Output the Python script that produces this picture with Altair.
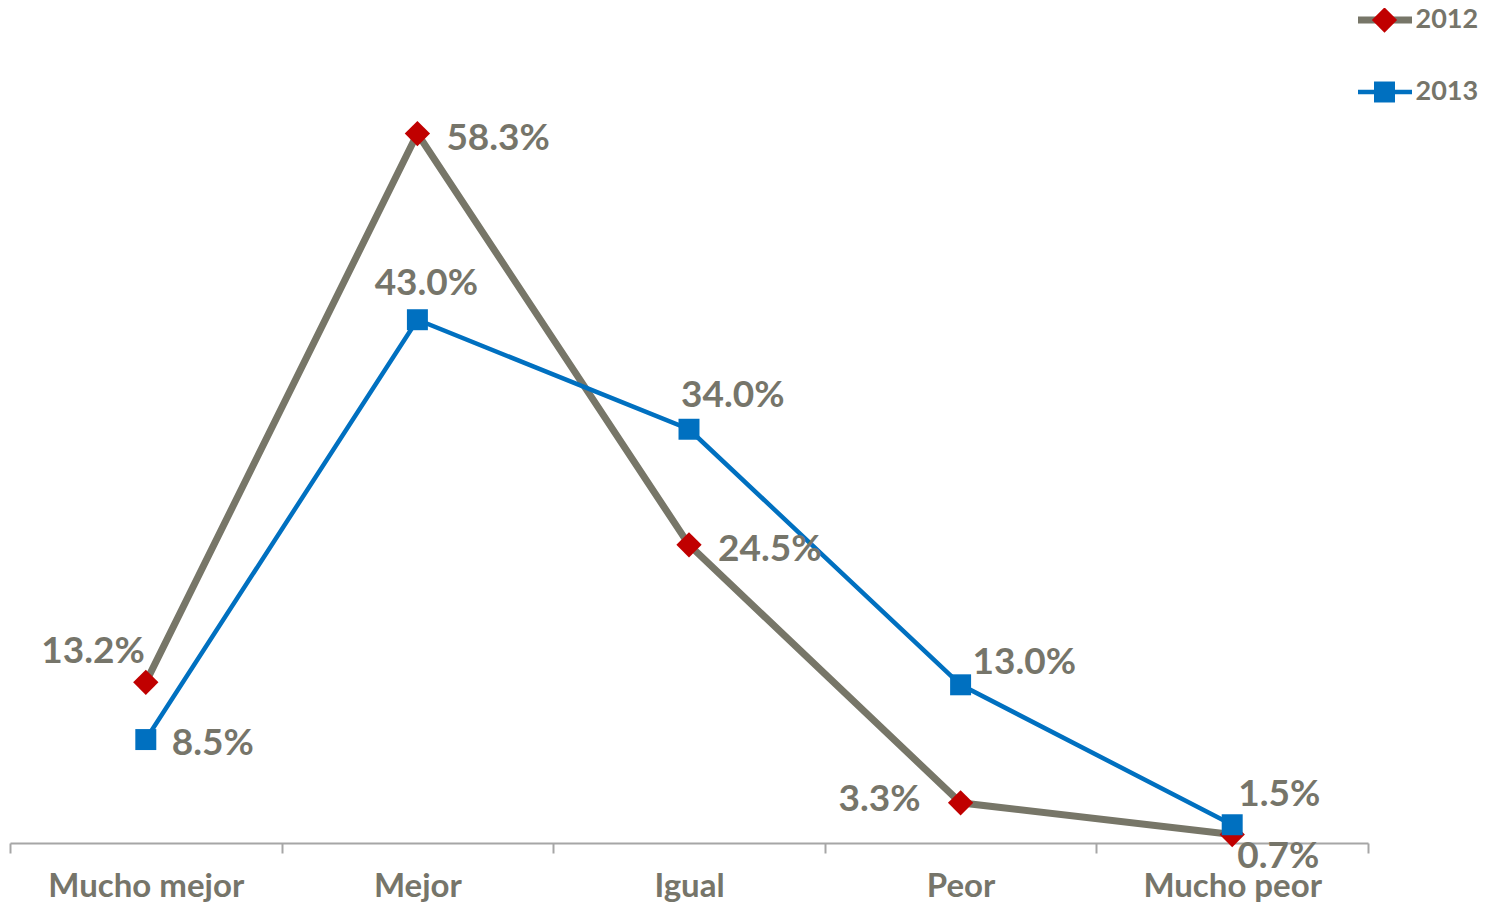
import altair as alt
import pandas as pd

categories = ["Mucho mejor", "Mejor", "Igual", "Peor", "Mucho peor"]
years = ["2012", "2013"]
values_2012 = [13.2, 58.3, 24.5, 3.3, 0.7]
values_2013 = [8.5, 43.0, 34.0, 13.0, 1.5]

rows = []
for y, vals in zip(years, [values_2012, values_2013]):
    for c, v in zip(categories, vals):
        rows.append({"cat": c, "year": y, "serie": y, "value": v, "label": f"{v:.1f}%"})
df = pd.DataFrame(rows)

GRAY = "#777668"
BLUE = "#0070C0"
RED = "#C00000"
TEXT = "#76756A"
FONT = "Lato"

x_enc = alt.X("cat:N", sort=categories, bandPosition=0.5,
              scale=alt.Scale(type="band", paddingInner=0, paddingOuter=0),
              axis=alt.Axis(title=None, tickBand="extent", domainColor="#A6A6A6",
                            domainWidth=2, tickColor="#A6A6A6", tickWidth=2, tickSize=10,
                            labelFont=FONT, labelFontSize=33, labelFontWeight="bold",
                            labelColor=TEXT, labelBaseline="alphabetic", labelPadding=43,
                            labelLimit=0, grid=False, labelAngle=0))
y_enc = alt.Y("value:Q", scale=alt.Scale(domain=[0, 65]), axis=None)

line_legend = alt.Legend(title=None, orient="none", legendX=1344.5, legendY=-52,
                         symbolType="stroke", symbolSize=2916, padding=0,
                         labelFont=FONT, labelFontSize=27, labelFontWeight="bold",
                         labelColor=TEXT, labelOffset=0, rowPadding=32, clipHeight=40)
point_legend = alt.Legend(title=None, orient="none", legendX=1361, legendY=-52,
                          padding=0, labelFont=FONT, labelFontSize=27,
                          labelFontWeight="bold", labelExpr="''", rowPadding=32,
                          clipHeight=40, symbolStrokeWidth=0)

lines = alt.Chart(df).mark_line().encode(
    x=x_enc, y=y_enc,
    color=alt.Color("year:N", scale=alt.Scale(domain=years, range=[GRAY, BLUE]),
                    legend=line_legend),
    strokeWidth=alt.StrokeWidth("year:N", scale=alt.Scale(domain=years, range=[7, 4.5]),
                                legend=line_legend),
    order=alt.Order("year:N"),
)

points = alt.Chart(df).mark_point(filled=True, opacity=1, strokeWidth=0).encode(
    x=x_enc, y=y_enc,
    fill=alt.Fill("serie:N", scale=alt.Scale(range=[RED, BLUE]), legend=point_legend),
    shape=alt.Shape("serie:N", scale=alt.Scale(range=["diamond", "square"]),
                    legend=point_legend),
    size=alt.Size("serie:N", scale=alt.Scale(range=[640, 440]), legend=point_legend),
)

# label placement per point: (year, category, align, dx, dy)
label_style = [
    ("2012", "Mucho mejor", "right", -1, -19),
    ("2012", "Mejor", "left", 29, 16),
    ("2012", "Igual", "left", 29, 16),
    ("2012", "Peor", "right", -40, 8),
    ("2012", "Mucho peor", "left", 5, 34),
    ("2013", "Mucho mejor", "left", 26, 15),
    ("2013", "Mejor", "center", 9, -25),
    ("2013", "Igual", "left", -8, -22),
    ("2013", "Peor", "left", 12, -11),
    ("2013", "Mucho peor", "left", 6, -19),
]

label_layers = []
for yr, cat, align, dx, dy in label_style:
    label_layers.append(
        alt.Chart(df).transform_filter(
            (alt.datum.year == yr) & (alt.datum.cat == cat)
        ).mark_text(align=align, baseline="alphabetic", dx=dx, dy=dy, font=FONT,
                    fontSize=37, fontWeight="bold", color=TEXT).encode(
            x=x_enc, y=y_enc, text="label:N")
    )

chart = alt.layer(lines, points, *label_layers).properties(
    width=1358, height=791,
    autosize=alt.AutoSizeParams(type="none"),
    padding={"left": 2, "top": 44, "right": 111, "bottom": 60},
).configure_view(stroke=None)

chart.save("out.html", embed_options={"renderer": "svg", "actions": False})
